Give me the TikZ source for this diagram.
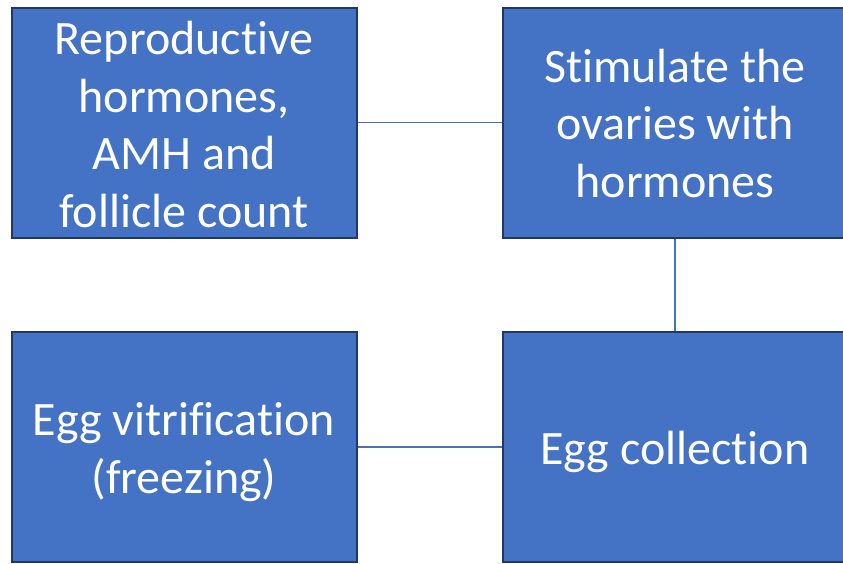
\documentclass[tikz,border=0pt]{standalone}
\usepackage{fontspec}
\setmainfont[Ligatures=NoCommon]{Carlito}
\definecolor{boxfill}{HTML}{4472C4}
\definecolor{boxline}{HTML}{203864}
\definecolor{conn}{HTML}{4472C4}
\begin{document}
\begin{tikzpicture}[x=1pt,y=-1pt,
  stepbox/.style={draw=boxline,line width=2pt,fill=boxfill,
    minimum width=345pt,minimum height=230pt,inner sep=0pt},
  steptext/.style={text=white,align=center,inner sep=0pt,
    font=\fontsize{48}{57.5}\selectfont},
  link/.style={draw=conn,line width=1.3pt}]
\useasboundingbox (0,0) rectangle (843,563);
\node[stepbox] (a) at (184,122.5) {};
\node[stepbox] (b) at (675,122.5) {};
\node[stepbox] (c) at (675,447) {};
\node[stepbox] (d) at (184,447) {};
\node[steptext] (ta) at ([yshift=-2pt]a.center) {Reproductive\\hormones,\\AMH and\\follicle count};
\node[steptext] (tb) at ([yshift=-1pt]b.center) {Stimulate the\\ovaries with\\hormones};
\node[steptext] (tc) at ([yshift=-5pt]c.center) {Egg collection};
\node[steptext] (td) at ([yshift=-5pt]d.center) {Egg vitrification\\(freezing)};
\draw[link] (a) -- (b);
\draw[link] (b) -- (c);
\draw[link] (c) -- (d);
\end{tikzpicture}
\end{document}
